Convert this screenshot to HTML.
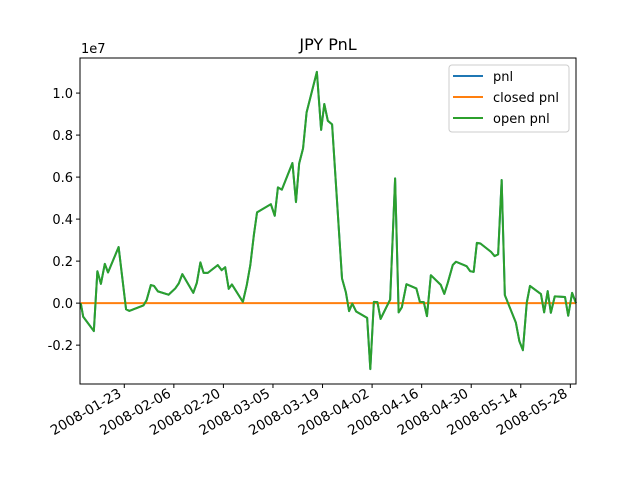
<!DOCTYPE html>
<html><head><meta charset="utf-8"><style>
body{margin:0;background:#fff}
svg{display:block;font-family:"DejaVu Sans","Liberation Sans",sans-serif}
</style></head><body>
<svg id="chart" width="640" height="480" viewBox="0 0 640 480">
<rect width="640" height="480" fill="#fff"/>
<text x="328" y="50" font-size="16" text-anchor="middle">JPY PnL</text>
<text x="81" y="53" font-size="13">1e7</text>
<g id="grid"></g>
<g id="series"></g>
<rect x="80" y="58" width="496" height="326" fill="none" stroke="#000" stroke-width="1"/>
<g>
<rect x="449" y="65" width="120" height="67" rx="3" fill="#fff" fill-opacity="0.8" stroke="#ccc"/>
<line x1="453" y1="76" x2="483" y2="76" stroke="#1f77b4" stroke-width="2"/>
<text x="493" y="81" font-size="13">pnl</text>
<line x1="453" y1="97" x2="483" y2="97" stroke="#ff7f0e" stroke-width="2"/>
<text x="493" y="102" font-size="13">closed pnl</text>
<line x1="453" y1="118" x2="483" y2="118" stroke="#2ca02c" stroke-width="2"/>
<text x="493" y="123" font-size="13">open pnl</text>
</g>
</svg>
<script>
// day-of-year 2008 (Jan 1 = 0)
const days=[9.7,10.4,13.4,14.4,15.4,16.5,17.4,20.4,22.5,23.4,27.4,28.3,29.5,30.4,31.5,34.5,36.4,37.4,38.4,41.5,42.5,43.5,44.4,45.6,48.4,49.5,50.5,51.5,52.4,55.5,56.6,57.6,58.6,59.5,63.4,64.5,65.4,66.5,69.5,70.5,71.4,72.5,73.5,76.4,77.6,78.5,79.5,80.7,83.5,84.6,85.5,86.4,87.5,90.6,91.5,92.5,93.5,94.4,97.1,98.5,99.5,100.4,101.7,104.5,105.5,106.6,107.5,108.6,111.4,112.4,113.4,114.8,115.7,118.7,119.7,120.7,121.6,122.6,125.6,126.6,127.6,128.6,129.5,132.6,133.6,134.6,135.7,136.6,139.7,140.6,141.6,142.5,143.6,146.5,147.4,148.5,149.6];
// open pnl in millions
const openPnl=[0,-0.65,-1.33,1.52,0.92,1.87,1.46,2.67,-0.29,-0.37,-0.11,0.14,0.86,0.82,0.56,0.4,0.7,0.94,1.38,0.49,0.97,1.94,1.44,1.44,1.81,1.57,1.71,0.68,0.89,0.06,0.86,1.81,3.24,4.32,4.71,4.16,5.51,5.40,6.67,4.81,6.65,7.37,9.08,11.01,8.25,9.48,8.68,8.51,1.18,0.51,-0.38,-0.02,-0.40,-0.70,-3.14,0.06,0.05,-0.75,0.17,5.94,-0.44,-0.2,0.90,0.70,0.06,0.05,-0.62,1.33,0.87,0.44,0.98,1.82,1.97,1.76,1.52,1.49,2.87,2.84,2.44,2.24,2.32,5.86,0.38,-0.92,-1.81,-2.24,0.03,0.82,0.43,-0.44,0.57,-0.46,0.32,0.29,-0.60,0.49,0];
const closedPnl=days.map(()=>0);
const pnlTotal=openPnl.slice();
const yTicks=[-0.2,0.0,0.2,0.4,0.6,0.8,1.0];
const xTickDays=[22,36,50,64,78,92,106,120,134,148];
const xTickLabels=["2008-01-23","2008-02-06","2008-02-20","2008-03-05","2008-03-19","2008-04-02","2008-04-16","2008-04-30","2008-05-14","2008-05-28"];
const NS="http://www.w3.org/2000/svg";
const X0=80,X1=576,Y0=58,Y1=384;
const dMin=9.49,dMax=149.6,vMin=-3.85,vMax=11.67;
const sx=d=>X0+(d-dMin)/(dMax-dMin)*(X1-X0);
const sy=v=>Y1-(v-vMin)/(vMax-vMin)*(Y1-Y0);
const g=document.getElementById('grid'),s=document.getElementById('series');
function mk(t,a,p){const e=document.createElementNS(NS,t);for(const k in a)e.setAttribute(k,a[k]);p.appendChild(e);return e;}
yTicks.forEach(t=>{const y=sy(t*10);
const l=mk('line',{x1:X0-4,x2:X0,y1:y,y2:y,stroke:'#000'},g);


const tx=mk('text',{x:X0-7,y:y+5,'font-size':13,'text-anchor':'end'},g);tx.textContent=t.toFixed(1);

});
xTickDays.forEach((d,i)=>{const x=sx(d);
const l=mk('line',{x1:x,x2:x,y1:Y1,y2:Y1+4,stroke:'#000'},g);


const tx=mk('text',{x:0,y:0,'font-size':13.6,'text-anchor':'end',transform:`translate(${x-2},${Y1+12}) rotate(-30)`},g);tx.textContent=xTickLabels[i];

});
function line(vals,col,name){const p=mk('polyline',{points:days.map((d,i)=>sx(d)+','+sy(vals[i])).join(' '),fill:'none',stroke:col,'stroke-width':2,'stroke-linejoin':'round'},s);

}
line(pnlTotal,'#1f77b4','pnl-line');
line(closedPnl,'#ff7f0e','closed-pnl-line');
line(openPnl,'#2ca02c','open-pnl-line');
</script>
</body></html>
